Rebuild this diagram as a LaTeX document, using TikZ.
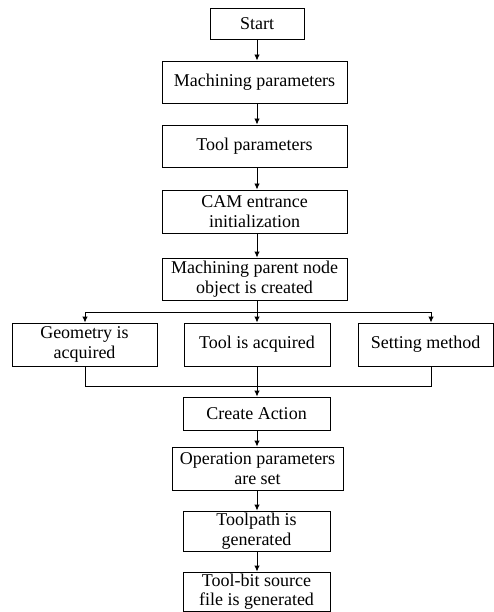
\documentclass[tikz,border=0pt]{standalone}
\usepackage{fontspec}
\setmainfont{Liberation Serif}
\usetikzlibrary{arrows.meta}
\begin{document}
\begin{tikzpicture}[x=1pt,y=-1pt,
  box/.style={draw,line width=0.9pt,rectangle,inner sep=0pt,align=center,
    font=\fontsize{18}{19.5}\selectfont},
  arr/.style={line width=0.9pt,-{Latex[length=6pt,width=5.5pt]}},
  ln/.style={line width=0.9pt}]
\useasboundingbox (0,0) rectangle (494,612);
\node[box,minimum width=94pt,minimum height=31pt] (start) at (257,23.5) {Start};
\node[box,minimum width=185pt,minimum height=42pt] (mp) at (254.5,82) {Machining parameters};
\node[box,minimum width=185pt,minimum height=42pt] (tp) at (254.5,146) {Tool parameters};
\node[box,minimum width=185pt,minimum height=43pt] (cam) at (254.5,211.5) {CAM entrance\\initialization};
\node[box,minimum width=185pt,minimum height=42pt] (parent) at (254.5,279) {Machining parent node\\object is created};
\node[box,minimum width=145pt,minimum height=43pt] (geo) at (84.5,344.5) {Geometry is\\acquired};
\node[box,minimum width=146pt,minimum height=43pt] (tool) at (257,344.5) {Tool is acquired};
\node[box,minimum width=135pt,minimum height=43pt] (set) at (425.5,344.5) {Setting method};
\node[box,minimum width=147pt,minimum height=33pt] (ca) at (256.5,413.5) {Create Action};
\node[box,minimum width=171pt,minimum height=43pt] (op) at (257.5,468.5) {Operation parameters\\are set};
\node[box,minimum width=147pt,minimum height=40pt] (path) at (256.5,531) {Toolpath is\\generated};
\node[box,minimum width=147pt,minimum height=39pt] (bit) at (256.5,591.5) {Tool-bit source\\file is generated};
\coordinate (split) at (257,312);
\coordinate (join) at (257,386);
\draw[arr] (start.south) -- (start.south |- mp.north);
\draw[arr] (mp.south -| start.south) -- (start.south |- tp.north);
\draw[arr] (tp.south -| start.south) -- (start.south |- cam.north);
\draw[arr] (cam.south -| start.south) -- (start.south |- parent.north);
\draw[ln] (parent.south -| split) -- (split);
\draw[arr] (split) -- (tool.north -| split);
\draw[arr] (split) -| ([xshift=0.5pt]geo.north);
\draw[arr] (split) -| ([xshift=5.5pt]set.north);
\draw[ln] ([xshift=0.5pt]geo.south) |- (join);
\draw[ln] ([xshift=5.5pt]set.south) |- (join);
\draw[ln] (tool.south -| join) -- (join);
\draw[arr] (join) -- (ca.north -| join);
\draw[arr] (ca.south -| join) -- (op.north -| join);
\draw[arr] (op.south -| join) -- (path.north -| join);
\draw[arr] (path.south -| join) -- (bit.north -| join);
\end{tikzpicture}
\end{document}
